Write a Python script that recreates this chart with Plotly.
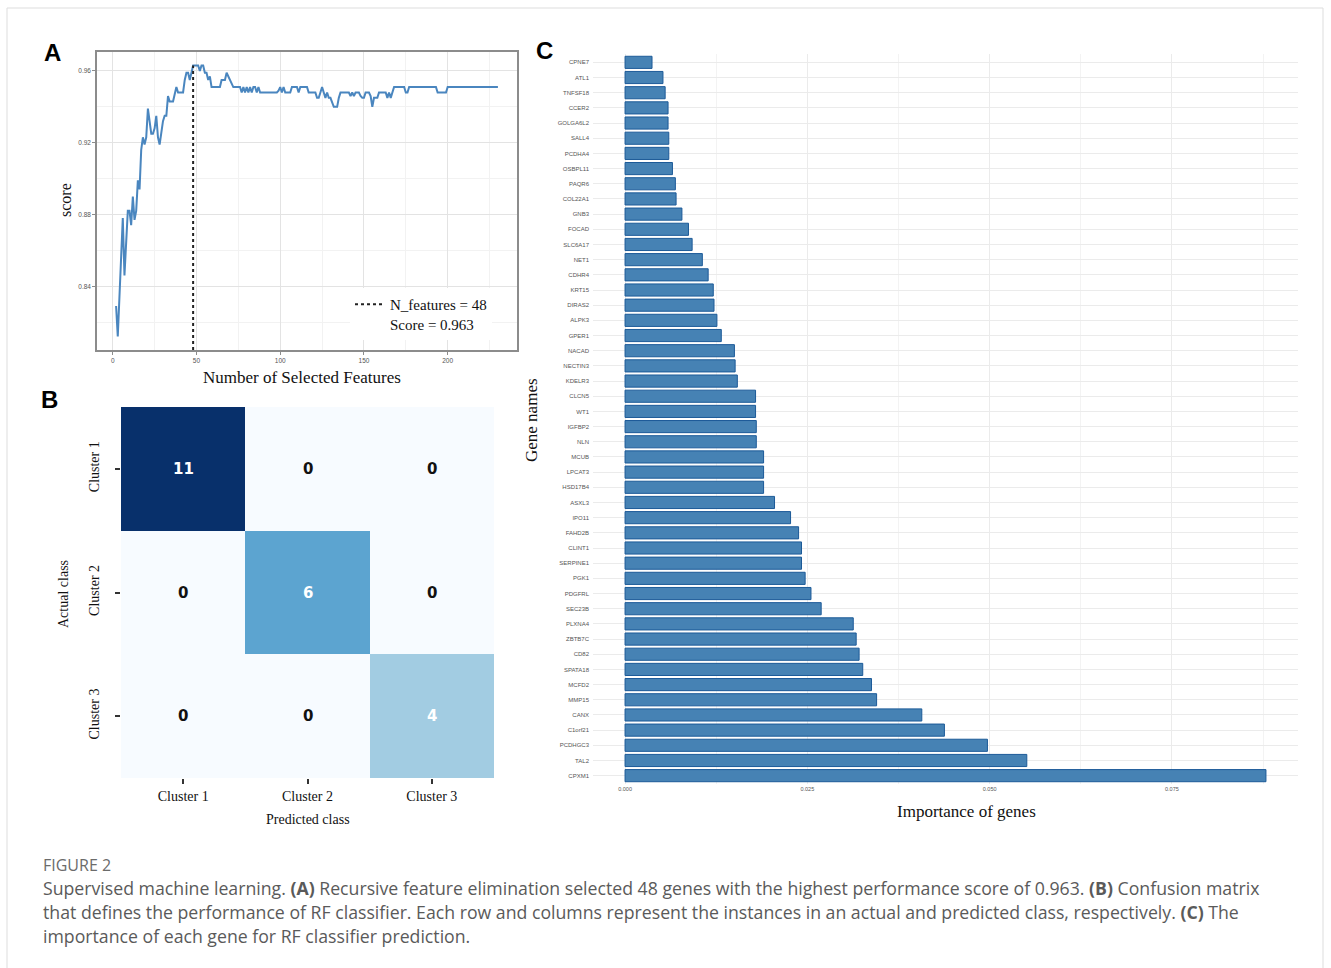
import plotly.graph_objects as go

# ---------------- data ----------------
# (A) recursive feature elimination: CV score per number of selected features (2..230)
n_features = list(range(2, 231))
scores = [
    0.829, 0.812, 0.834, 0.856, 0.878, 0.846, 0.868, 0.882, 0.882, 0.874,
    0.890, 0.877, 0.882, 0.899, 0.894, 0.916, 0.923, 0.919, 0.923, 0.939,
    0.932, 0.925, 0.925, 0.928, 0.935, 0.923, 0.919, 0.927, 0.932, 0.935,
    0.935, 0.946, 0.943, 0.943, 0.943, 0.947, 0.951, 0.948, 0.948, 0.948,
    0.948, 0.955, 0.959, 0.959, 0.955, 0.959, 0.963, 0.963, 0.963, 0.963,
    0.960, 0.963, 0.963, 0.959, 0.959, 0.955, 0.957, 0.951, 0.951, 0.951,
    0.951, 0.951, 0.951, 0.955, 0.955, 0.955, 0.959, 0.957, 0.955, 0.953,
    0.951, 0.951, 0.951, 0.951, 0.951, 0.948, 0.951, 0.948, 0.951, 0.948,
    0.951, 0.948, 0.951, 0.951, 0.948, 0.951, 0.948, 0.948, 0.948, 0.948,
    0.948, 0.948, 0.948, 0.948, 0.948, 0.948, 0.948, 0.949, 0.951, 0.948,
    0.951, 0.948, 0.948, 0.948, 0.948, 0.951, 0.951, 0.951, 0.951, 0.948,
    0.951, 0.951, 0.951, 0.951, 0.951, 0.948, 0.948, 0.948, 0.948, 0.948,
    0.945, 0.945, 0.948, 0.951, 0.948, 0.945, 0.948, 0.945, 0.945, 0.942,
    0.940, 0.940, 0.940, 0.945, 0.948, 0.948, 0.948, 0.948, 0.948, 0.948,
    0.946, 0.948, 0.946, 0.948, 0.948, 0.948, 0.946, 0.945, 0.945, 0.948,
    0.948, 0.948, 0.946, 0.940, 0.945, 0.945, 0.945, 0.948, 0.948, 0.948,
    0.948, 0.948, 0.945, 0.948, 0.945, 0.948, 0.951, 0.951, 0.951, 0.951,
    0.951, 0.951, 0.951, 0.948, 0.948, 0.951, 0.951, 0.951, 0.951, 0.951,
    0.951, 0.951, 0.951, 0.951, 0.951, 0.951, 0.951, 0.951, 0.951, 0.951,
    0.951, 0.951, 0.948, 0.948, 0.948, 0.948, 0.948, 0.948, 0.951, 0.951,
    0.951, 0.951, 0.951, 0.951, 0.951, 0.951, 0.951, 0.951, 0.951, 0.951,
    0.951, 0.951, 0.951, 0.951, 0.951, 0.951, 0.951, 0.951, 0.951, 0.951,
    0.951, 0.951, 0.951, 0.951, 0.951, 0.951, 0.951, 0.951, 0.951,
]
best_n = 48
best_score = 0.963
a_xticks = [0, 50, 100, 150, 200]
a_yticks = [0.84, 0.88, 0.92, 0.96]
a_yticklabels = ["0.84", "0.88", "0.92", "0.96"]

# (B) confusion matrix (rows = actual, cols = predicted)
clusters = ["Cluster 1", "Cluster 2", "Cluster 3"]
confusion = [
    [11, 0, 0],
    [0, 6, 0],
    [0, 0, 4],
]

# (C) gene importance, listed top to bottom
genes = [
    "CPNE7", "ATL1", "TNFSF18", "CCER2", "GOLGA6L2", "SALL4", "PCDHA4", "OSBPL11",
    "PAQR6", "COL22A1", "GNB3", "FOCAD", "SLC6A17", "NET1", "CDHR4", "KRT15",
    "DIRAS2", "ALPK3", "GPER1", "NACAD", "NECTIN3", "KDELR3", "CLCN5", "WT1",
    "IGFBP2", "NLN", "MCUB", "LPCAT3", "HSD17B4", "ASXL3", "IPO11", "FAHD2B",
    "CLINT1", "SERPINE1", "PGK1", "PDGFRL", "SEC23B", "PLXNA4", "ZBTB7C", "CD82",
    "SPATA18", "MCFD2", "MMP15", "CANX", "C1orf21", "PCDHGC3", "TAL2", "CPXM1",
]
importance = [
    0.0037, 0.0052, 0.0055, 0.0059, 0.0059, 0.0060, 0.0060, 0.0065,
    0.0069, 0.0070, 0.0078, 0.0087, 0.0092, 0.0106, 0.0114, 0.0121,
    0.0122, 0.0126, 0.0132, 0.0150, 0.0151, 0.0154, 0.0179, 0.0179,
    0.0180, 0.0180, 0.0190, 0.0190, 0.0190, 0.0205, 0.0227, 0.0238,
    0.0242, 0.0242, 0.0247, 0.0255, 0.0269, 0.0313, 0.0317, 0.0321,
    0.0326, 0.0338, 0.0345, 0.0407, 0.0438, 0.0497, 0.0551, 0.0879,
]
c_xticks = [0.0, 0.025, 0.05, 0.075]
c_xticklabels = ["0.000", "0.025", "0.050", "0.075"]

# ---------------- styling ----------------
W, H = 1331, 968
SERIF = "Liberation Serif"
SANS = "Liberation Sans"
LINE_BLUE = "#4a86bf"
BAR_BLUE = "#4682b4"
GRID = "#ebebeb"
BLUES = [
    [0.0, "#f7fbff"], [0.125, "#deebf7"], [0.25, "#c6dbef"], [0.375, "#9ecae1"],
    [0.5, "#6baed6"], [0.625, "#4292c6"], [0.75, "#2171b5"], [0.875, "#08519c"],
    [1.0, "#08306b"],
]


def fx(p):
    return p / W


def fy(p):
    return 1 - p / H


fig = go.Figure()

# ---- panel A: RFE curve ----
fig.add_trace(go.Scatter(
    x=n_features, y=scores, mode="lines",
    line=dict(color=LINE_BLUE, width=2), showlegend=False,
    xaxis="x", yaxis="y",
))
a_ymin = min(scores) - 0.05 * (max(scores) - min(scores))
a_ymax = max(scores) + 0.05 * (max(scores) - min(scores))
a_xmin = n_features[0] - 0.05 * (n_features[-1] - n_features[0])
a_xmax = n_features[-1] + 0.05 * (n_features[-1] - n_features[0])
fig.add_trace(go.Scatter(
    x=[best_n, best_n], y=[a_ymin, best_score], mode="lines",
    line=dict(color="#222222", width=2, dash="dot"),
    name=f"N_features = {best_n}<br>Score = {best_score}",
    showlegend=True, xaxis="x", yaxis="y",
))

# ---- panel B: confusion matrix ----
zmax = max(max(r) for r in confusion)
fig.add_trace(go.Heatmap(
    z=confusion, x=clusters, y=clusters, colorscale=BLUES,
    zmin=0, zmax=zmax, showscale=False, xaxis="x2", yaxis="y2",
    hoverinfo="skip",
))

# ---- panel C: gene importance ----
fig.add_trace(go.Bar(
    x=importance, y=genes, orientation="h", width=0.8,
    marker=dict(color=BAR_BLUE, line=dict(color="#1c5a98", width=1)),
    showlegend=False, xaxis="x3", yaxis="y3",
))

c_pad = 0.05 * max(importance)

layout = dict(
    width=W, height=H,
    margin=dict(l=0, r=0, t=0, b=0),
    paper_bgcolor="white", plot_bgcolor="white",
    font=dict(family=SANS, color="#333333"),
    # A
    xaxis=dict(
        domain=[fx(97), fx(517)], anchor="y",
        range=[a_xmin, a_xmax], tickvals=a_xticks,
        tickfont=dict(size=6.5, color="#555555", family=SANS),
        showgrid=True, gridcolor="#e3e3e3", gridwidth=1,
        minor=dict(showgrid=True, gridcolor="#f2f2f2", dtick=25, tick0=0),
        zeroline=False, showline=True, linecolor="#8c8c8c", linewidth=1.5, mirror=True,
        ticks="outside", ticklen=3, tickcolor="#8c8c8c",
    ),
    yaxis=dict(
        domain=[fy(350), fy(52)], anchor="x",
        range=[a_ymin, a_ymax], tickvals=a_yticks, ticktext=a_yticklabels,
        tickfont=dict(size=6.5, color="#555555", family=SANS),
        showgrid=True, gridcolor="#e3e3e3", gridwidth=1,
        minor=dict(showgrid=True, gridcolor="#f2f2f2", dtick=0.02, tick0=0.82),
        zeroline=False, showline=True, linecolor="#8c8c8c", linewidth=1.5, mirror=True,
        ticks="outside", ticklen=3, tickcolor="#8c8c8c",
    ),
    # B
    xaxis2=dict(
        domain=[fx(121), fx(494)], anchor="y2",
        tickfont=dict(size=14, color="#111111", family=SERIF),
        showgrid=False, zeroline=False, showline=False,
        ticks="outside", ticklen=5, tickwidth=1.5, tickcolor="#333333",
    ),
    yaxis2=dict(
        domain=[fy(778), fy(407)], anchor="x2", autorange="reversed",
        tickfont=dict(size=14, color="#111111", family=SERIF), tickangle=-90,
        showgrid=False, zeroline=False, showline=False, ticklabelstandoff=10,
        ticks="outside", ticklen=5, tickwidth=1.5, tickcolor="#333333",
    ),
    # C
    xaxis3=dict(
        domain=[fx(593), fx(1298)], anchor="y3",
        range=[-c_pad, max(importance) + c_pad],
        tickvals=c_xticks, ticktext=c_xticklabels,
        tickfont=dict(size=5.5, color="#555555", family=SANS),
        showgrid=True, gridcolor=GRID, gridwidth=1.2,
        minor=dict(showgrid=True, gridcolor="#f3f3f3", dtick=0.0125, tick0=0.0125),
        zeroline=False, showline=False, ticks="",
    ),
    yaxis3=dict(
        domain=[fy(784), fy(54)], anchor="x3",
        categoryorder="array", categoryarray=genes,
        range=[len(genes) - 0.45, -0.55],
        tickfont=dict(size=6, color="#555555", family=SANS),
        showgrid=True, gridcolor=GRID, gridwidth=1.2,
        zeroline=False, showline=False, ticks="", ticklabelstandoff=3,
    ),
    legend=dict(
        x=fx(350), y=fy(288), xanchor="left", yanchor="top",
        bgcolor="white", borderwidth=0, itemwidth=30, valign="top",
        tracegroupgap=0,
        font=dict(family=SERIF, size=15, color="#111111"),
    ),
)
fig.update_layout(**layout)

ann = []
# panel letters
for letter, x, y in [("A", 52, 52), ("B", 50, 400), ("C", 544, 51)]:
    ann.append(dict(text=f"<b>{letter}</b>", x=fx(x), y=fy(y),
                    font=dict(family=SANS, size=24, color="#000000")))
# axis titles
ann += [
    dict(text="score", x=fx(66), y=fy(200), textangle=-90,
         font=dict(family=SERIF, size=16, color="#111111")),
    dict(text="Number of Selected Features", x=fx(302), y=fy(377),
         font=dict(family=SERIF, size=17, color="#111111")),
    dict(text="Actual class", x=fx(63), y=fy(594), textangle=-90,
         font=dict(family=SERIF, size=14, color="#111111")),
    dict(text="Predicted class", x=fx(308), y=fy(819),
         font=dict(family=SERIF, size=14, color="#111111")),
    dict(text="Gene names", x=fx(531), y=fy(420), textangle=-90,
         font=dict(family=SERIF, size=17, color="#111111")),
    dict(text="Importance of genes", x=fx(966), y=fy(811),
         font=dict(family=SERIF, size=17, color="#111111")),
]
for a in ann:
    a.update(xref="paper", yref="paper", showarrow=False,
             xanchor="center", yanchor="middle")

# cell values in the confusion matrix
for i, row in enumerate(confusion):
    for j, v in enumerate(row):
        ann.append(dict(
            text=f"<b>{v}</b>", x=clusters[j], y=clusters[i], xref="x2", yref="y2",
            showarrow=False,
            font=dict(family="DejaVu Sans", size=15,
                      color="white" if v > zmax * 0.3 else "#111111"),
        ))

# caption
CAP = "Open Sans"
ann.append(dict(text="FIGURE 2", x=fx(41), y=fy(865), xanchor="left", yanchor="middle",
                xref="paper", yref="paper", showarrow=False,
                font=dict(family=CAP, size=16, color="#6b6b6b")))
cap_lines = [
    "Supervised machine learning. <b>(A)</b> Recursive feature elimination selected 48 genes with the highest performance score of 0.963. <b>(B)</b> Confusion matrix",
    "that defines the performance of RF classifier. Each row and columns represent the instances in an actual and predicted class, respectively. <b>(C)</b> The",
    "importance of each gene for RF classifier prediction.",
]
for k, line in enumerate(cap_lines):
    ann.append(dict(text=line, x=fx(41), y=fy(888 + 24 * k), xanchor="left", yanchor="middle",
                    xref="paper", yref="paper", showarrow=False,
                    font=dict(family=CAP, size=17.7, color="#5a5a5a")))

fig.update_layout(annotations=ann)

# thin frame around the figure block
fig.add_shape(type="rect", xref="paper", yref="paper",
              x0=fx(7), x1=fx(1323), y0=fy(1000), y1=fy(8),
              line=dict(color="#dddddd", width=1), fillcolor="rgba(0,0,0,0)")

fig.write_html("out.html")
